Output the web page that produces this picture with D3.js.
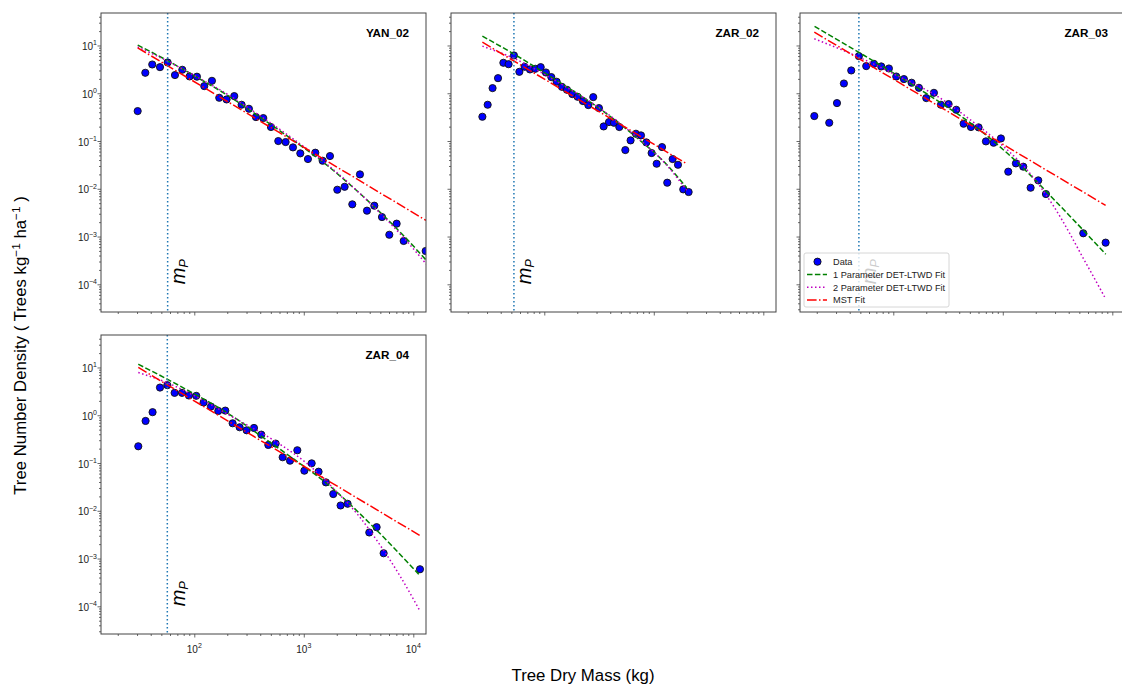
<!DOCTYPE html>
<html>
<head>
<meta charset="utf-8">
<script src="https://cdn.jsdelivr.net/npm/d3@7"></script>
<style>
  body { margin: 0; background: #fff; }
  text { font-family: "Liberation Sans", Arial, sans-serif; }
</style>
</head>
<body>
<svg id="chart" width="1122" height="688"></svg>
<script>
// ---- Size-distribution data: bin-centre dry mass (kg) and tree number density (trees kg^-1 ha^-1)
const siteNames = ["YAN_02", "ZAR_02", "ZAR_03", "ZAR_04"];

const yan02Mass = [30.4, 35.7, 41.3, 48.6, 57.1, 66.6, 77.7, 90.6, 105.7, 123.3, 144.9, 169.0, 197.2, 231.7, 270.4, 315.5, 365.6, 426.6, 501.2, 584.8, 682.3, 796.2, 929, 1091, 1274, 1486, 1734, 2023, 2360, 2773, 3258, 3776, 4406, 5176, 6039, 7047, 8166, 12970];
const yan02Density = [0.423, 2.68, 4.00, 3.52, 4.41, 2.40, 3.10, 2.25, 2.22, 1.41, 1.82, 0.804, 0.741, 0.871, 0.574, 0.473, 0.317, 0.302, 0.196, 0.0998, 0.0951, 0.0735, 0.0551, 0.0419, 0.0569, 0.0386, 0.0484, 0.00955, 0.0110, 0.00472, 0.0200, 0.00348, 0.00443, 0.00256, 0.00109, 0.00186, 0.000807, 0.000498];

const zar02Mass = [27.2, 30.4, 33.7, 37.8, 42.3, 47.2, 52.8, 59.2, 66.1, 74.0, 82.8, 92.7, 103.5, 115.9, 129.7, 144.9, 161.1, 180.3, 201.4, 225.4, 252.3, 279.9, 315.5, 348.3, 389.9, 432.5, 484.2, 549.5, 613.8, 687.1, 763.8, 855.1, 955, 1062, 1189, 1327, 1486, 1663, 1858, 2080];
const zar02Density = [0.322, 0.574, 1.28, 2.07, 4.34, 4.06, 6.18, 2.81, 3.58, 3.15, 3.25, 3.52, 2.72, 2.18, 1.74, 1.36, 1.18, 0.959, 0.843, 0.684, 0.565, 0.830, 0.489, 0.202, 0.249, 0.241, 0.196, 0.0646, 0.103, 0.142, 0.131, 0.0935, 0.0560, 0.0334, 0.0746, 0.0134, 0.0419, 0.0318, 0.00971, 0.00855];

const zar03Mass = [19.0, 26.0, 30.6, 35.4, 41.3, 48.5, 56.6, 66.5, 77.6, 91.2, 106.4, 125.0, 146.9, 171.4, 200.0, 235.0, 272.3, 319.9, 375.8, 438.5, 511.7, 601.2, 701.5, 824.1, 961.6, 1122, 1318, 1538, 1795, 2109, 2477, 5433, 8690];
const zar03Density = [0.333, 0.241, 0.622, 1.60, 3.00, 5.98, 3.70, 4.13, 3.64, 3.30, 2.24, 1.98, 1.66, 1.30, 0.791, 1.02, 0.574, 0.593, 0.451, 0.230, 0.196, 0.193, 0.0982, 0.0920, 0.113, 0.0228, 0.0340, 0.0290, 0.0105, 0.0150, 0.00776, 0.00117, 0.000745];

const zar04Mass = [30.8, 35.9, 41.6, 48.6, 56.7, 66.1, 77.2, 89.3, 104.2, 121.6, 141.9, 165.6, 191.9, 223.9, 259.4, 300.6, 350.8, 409.3, 474.2, 553.4, 641.2, 748.2, 873.0, 1012, 1180, 1365, 1592, 1858, 2168, 2512, 3963, 4624, 5358, 11510];
const zar04Density = [0.224, 0.760, 1.16, 3.80, 4.26, 2.94, 2.94, 2.59, 2.55, 1.85, 1.52, 1.23, 1.25, 0.679, 0.560, 0.484, 0.542, 0.393, 0.239, 0.255, 0.132, 0.112, 0.185, 0.0690, 0.0984, 0.0658, 0.0393, 0.0224, 0.0129, 0.0140, 0.00351, 0.00454, 0.00129, 0.000597];

// Peak mass m_P for each site (kg)
const peakMass = [57.1, 52.8, 48.5, 56.7];

// Fitted curves, [mass, density] pairs
const yan02Fit1 = [[30.4, 10.2], [57.1, 4.79], [112, 2.00], [200, 0.912], [398, 0.316], [794, 0.105], [1514, 0.0355], [2512, 0.0135], [4365, 0.00427], [8128, 0.00105], [13183, 0.000316]];
const yan02Fit2 = [[30.4, 9.33], [57.1, 4.68], [112, 2.04], [200, 0.955], [398, 0.339], [794, 0.112], [1514, 0.0372], [2512, 0.0138], [4365, 0.00417], [8128, 0.000955], [13183, 0.000263]];
const yan02Mst = [[30.4, 8.93], [13061, 0.00218]];

const zar02Fit1 = [[27.2, 15.7], [52.8, 6.61], [129, 1.86], [324, 0.468], [741, 0.105], [1259, 0.0355], [1995, 0.0105]];
const zar02Fit2 = [[27.2, 9.68], [52.8, 5.37], [129, 1.78], [324, 0.479], [741, 0.107], [1259, 0.0347], [1995, 0.00933]];
const zar02Mst = [[27.2, 11.7], [1995, 0.0334]];

const zar03Fit1 = [[19.1, 25.1], [49.0, 7.08], [115, 2.19], [251, 0.708], [562, 0.200], [1288, 0.0398], [3311, 0.00447], [8710, 0.000427]];
const zar03Fit2 = [[19.0, 13.8], [48.5, 5.70], [115, 2.19], [251, 0.871], [501, 0.282], [1000, 0.0794], [1660, 0.0251], [2884, 0.00447], [5888, 0.000251], [8511, 0.0000543]];
const zar03Mst = [[19.0, 19.0], [8690, 0.00450]];

const zar04Fit1 = [[30.8, 11.7], [56.6, 5.69], [105, 2.63], [200, 1.12], [398, 0.380], [813, 0.120], [1622, 0.0372], [4074, 0.00525], [11220, 0.000468]];
const zar04Fit2 = [[30.8, 7.85], [56.6, 4.79], [112, 2.24], [229, 0.891], [562, 0.275], [1122, 0.0891], [1995, 0.0251], [3162, 0.00794], [5012, 0.00186], [7586, 0.000427], [11400, 0.0000832]];
const zar04Mst = [[30.8, 10.0], [11530, 0.00302]];

// Axis ticks
const xMajorTicks = [100, 1000, 10000];
const xMajorLabels = ["2", "3", "4"];
const yMajorTicks = [1e-4, 1e-3, 1e-2, 1e-1, 1, 10];
const yMajorLabels = ["\u22124", "\u22123", "\u22122", "\u22121", "0", "1"];

const legendLabels = ["Data", "1 Parameter DET-LTWD Fit", "2 Parameter DET-LTWD Fit", "MST Fit"];

// ---- Layout
const panelW = 325, panelH = 299;
const panelOrigins = [[101, 13], [451, 13], [800, 13], [101, 335]];
const showYLabels = [true, false, false, true];
const showXLabels = [false, false, false, true];

const sites = siteNames.map((name, i) => ({
  name,
  mass: [yan02Mass, zar02Mass, zar03Mass, zar04Mass][i],
  density: [yan02Density, zar02Density, zar03Density, zar04Density][i],
  fit1: [yan02Fit1, zar02Fit1, zar03Fit1, zar04Fit1][i],
  fit2: [yan02Fit2, zar02Fit2, zar03Fit2, zar04Fit2][i],
  mst: [yan02Mst, zar02Mst, zar03Mst, zar04Mst][i],
  peak: peakMass[i]
}));

const x = d3.scaleLog().domain([Math.pow(10, 1.148), Math.pow(10, 4.116)]).range([0, panelW]);
const y = d3.scaleLog().domain([Math.pow(10, -4.58), Math.pow(10, 1.68)]).range([panelH, 0]);

function minorTicks(scale) {
  const [lo, hi] = scale.domain();
  const out = [];
  for (let e = Math.floor(Math.log10(lo)); e <= Math.ceil(Math.log10(hi)); e++) {
    for (let k = 2; k <= 9; k++) {
      const v = k * Math.pow(10, e);
      if (v >= lo && v <= hi) out.push(v);
    }
  }
  return out;
}
const xMinor = minorTicks(x), yMinor = minorTicks(y);

const styles = {
  fit1: { stroke: "#008000", dash: "5.5,2.4" },
  fit2: { stroke: "#c000c0", dash: "1.5,2.5" },
  mst:  { stroke: "#ff0000", dash: "9.6,2.4,1.5,2.4" }
};
const axisColor = "#444";
const labelColor = "#222";

const svg = d3.select("#chart");
const line = d3.line().x(d => x(d[0])).y(d => y(d[1])).curve(d3.curveMonotoneX);

sites.forEach((s, i) => {
  const [ox, oy] = panelOrigins[i];
  const g = svg.append("g").attr("transform", `translate(${ox},${oy})`);

  g.append("clipPath").attr("id", "clip" + i)
    .append("rect").attr("width", panelW).attr("height", panelH);

  // ticks
  const axisGroups = [
    g.append("g").attr("transform", `translate(0,${panelH})`)
      .call(d3.axisBottom(x).tickValues(xMinor).tickSize(2).tickSizeOuter(0).tickFormat("")),
    g.append("g").attr("transform", `translate(0,${panelH})`)
      .call(d3.axisBottom(x).tickValues(xMajorTicks).tickSize(3.5).tickSizeOuter(0).tickFormat("")),
    g.append("g").call(d3.axisLeft(y).tickValues(yMinor).tickSize(2).tickSizeOuter(0).tickFormat("")),
    g.append("g").call(d3.axisLeft(y).tickValues(yMajorTicks).tickSize(3.5).tickSizeOuter(0).tickFormat(""))
  ];
  axisGroups.forEach(a => {
    a.attr("color", axisColor);
    a.select(".domain").remove();
    a.selectAll("line").attr("stroke-width", 0.8);
  });

  if (showYLabels[i]) {
    yMajorTicks.forEach((v, k) => {
      const t = g.append("text")
        .attr("x", -4).attr("y", y(v) + 4.5)
        .attr("text-anchor", "end").attr("font-size", 10).attr("fill", labelColor)
        .text("10");
      t.append("tspan").attr("dy", -4.5).attr("font-size", 7).text(yMajorLabels[k]);
    });
  }
  if (showXLabels[i]) {
    xMajorTicks.forEach((v, k) => {
      const t = g.append("text")
        .attr("x", x(v)).attr("y", panelH + 19)
        .attr("text-anchor", "middle").attr("font-size", 10).attr("fill", labelColor)
        .text("10");
      t.append("tspan").attr("dy", -5).attr("font-size", 7).text(xMajorLabels[k]);
    });
  }

  const plot = g.append("g").attr("clip-path", `url(#clip${i})`);

  // observed densities
  plot.selectAll("circle.obs")
    .data(d3.zip(s.mass, s.density))
    .join("circle")
    .attr("class", "obs")
    .attr("cx", d => x(d[0])).attr("cy", d => y(d[1]))
    .attr("r", 3.6)
    .attr("fill", "#0000ff").attr("stroke", "#111").attr("stroke-width", 0.9);

  // fitted curves
  ["fit1", "fit2", "mst"].forEach(key => {
    plot.append("path")
      .datum(s[key])
      .attr("d", line)
      .attr("fill", "none")
      .attr("stroke", styles[key].stroke)
      .attr("stroke-width", 1.5)
      .attr("stroke-dasharray", styles[key].dash);
  });

  // peak mass marker
  const px = x(s.peak);
  plot.append("line")
    .attr("x1", px).attr("x2", px).attr("y1", 0).attr("y2", panelH)
    .attr("stroke", "#1f77b4").attr("stroke-width", 1.5).attr("stroke-dasharray", "1.5,2.5");
  const mp = g.append("text")
    .attr("transform", `translate(${px + 17.5},${y(1e-4)}) rotate(-90)`)
    .attr("font-family", "DejaVu Sans").attr("font-style", "italic")
    .attr("font-size", 20).attr("fill", "#000");
  mp.append("tspan").text("m");
  mp.append("tspan").attr("dy", 3).attr("font-size", 13).text("P");

  // site name
  g.append("text")
    .attr("x", panelW - 17).attr("y", 24)
    .attr("text-anchor", "end").attr("font-size", 11.7).attr("font-weight", "bold")
    .attr("fill", "#000").text(s.name);

  // frame
  g.append("rect").attr("width", panelW).attr("height", panelH)
    .attr("fill", "none").attr("stroke", axisColor).attr("stroke-width", 1);

  // legend in the third panel
  if (i === 2) {
    const lg = g.append("g").attr("transform", "translate(4,240)");
    lg.append("rect").attr("width", 145).attr("height", 54).attr("rx", 2)
      .attr("fill", "#fff").attr("fill-opacity", 0.8)
      .attr("stroke", "#ccc").attr("stroke-width", 0.8);
    legendLabels.forEach((lab, k) => {
      const ry = 8.7 + k * 12.8;
      if (k === 0) {
        lg.append("circle").attr("cx", 13.5).attr("cy", ry).attr("r", 3.6)
          .attr("fill", "#0000ff").attr("stroke", "#111").attr("stroke-width", 0.9);
      } else {
        const st = styles[["fit1", "fit2", "mst"][k - 1]];
        lg.append("line").attr("x1", 3).attr("x2", 23).attr("y1", ry).attr("y2", ry)
          .attr("stroke", st.stroke).attr("stroke-width", 1.5).attr("stroke-dasharray", st.dash);
      }
      lg.append("text").attr("x", 29).attr("y", ry + 3.3)
        .attr("font-size", 9.2).attr("fill", "#222").text(lab);
    });
  }
});

// shared axis titles
svg.append("text")
  .attr("x", 583).attr("y", 681)
  .attr("text-anchor", "middle").attr("font-size", 16.8).attr("fill", "#000")
  .text("Tree Dry Mass (kg)");

const yl = svg.append("text")
  .attr("transform", "translate(26,345.5) rotate(-90)")
  .attr("text-anchor", "middle").attr("font-size", 16.8).attr("fill", "#000");
yl.append("tspan").text("Tree Number Density ( Trees kg");
yl.append("tspan").attr("dy", -6).attr("font-size", 11.8).text("\u22121");
yl.append("tspan").attr("dy", 6).text(" ha");
yl.append("tspan").attr("dy", -6).attr("font-size", 11.8).text("\u22121");
yl.append("tspan").attr("dy", 6).text(" )");
</script>
</body>
</html>
